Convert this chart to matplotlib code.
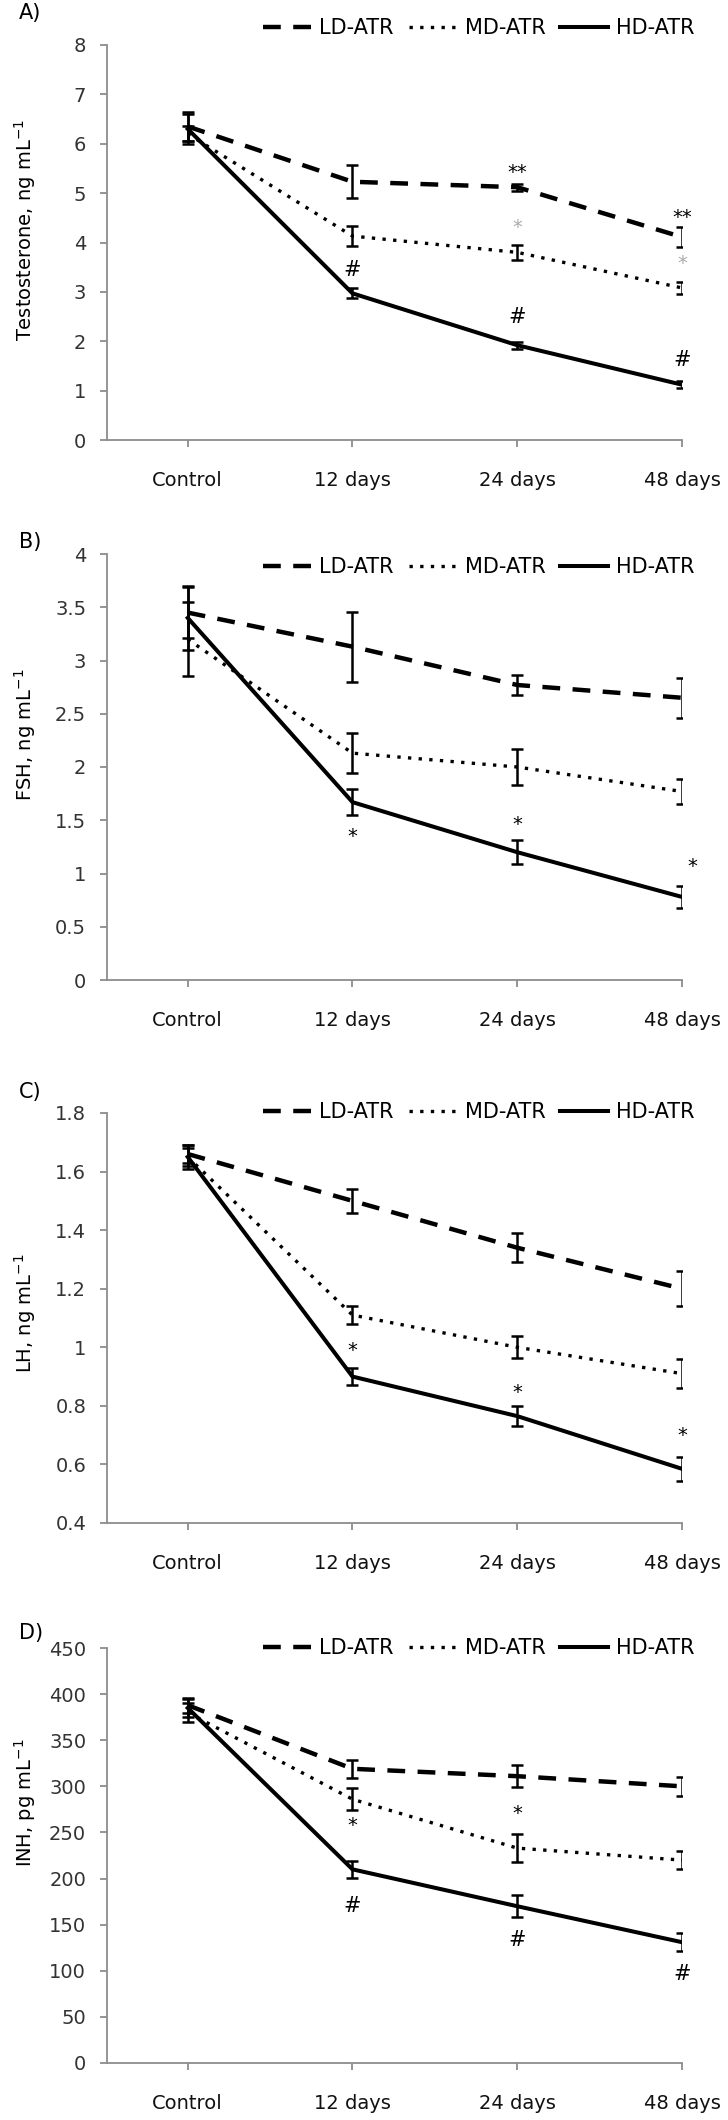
import numpy as np
import matplotlib
matplotlib.use("Agg")
import matplotlib.pyplot as plt
from matplotlib.ticker import FuncFormatter

plt.rcParams['font.family'] = ['DejaVu Sans']

cats = ["Control", "12 days", "24 days", "48 days"]
series = ["LD-ATR", "MD-ATR", "HD-ATR"]

# A) testosterone
t_ld = [6.35, 5.23, 5.12, 4.11]
t_ld_err = [0.3, 0.33, 0.07, 0.2]
t_md = [6.2, 4.13, 3.8, 3.08]
t_md_err = [0.15, 0.2, 0.15, 0.12]
t_hd = [6.3, 2.97, 1.92, 1.12]
t_hd_err = [0.3, 0.1, 0.07, 0.07]

# B) FSH
f_ld = [3.45, 3.13, 2.77, 2.65]
f_ld_err = [0.24, 0.33, 0.09, 0.19]
f_md = [3.2, 2.13, 2.0, 1.77]
f_md_err = [0.35, 0.19, 0.17, 0.12]
f_hd = [3.4, 1.67, 1.2, 0.78]
f_hd_err = [0.3, 0.125, 0.11, 0.1]

# C) LH
l_ld = [1.66, 1.5, 1.34, 1.2]
l_ld_err = [0.03, 0.04, 0.05, 0.06]
l_md = [1.65, 1.11, 1.0, 0.91]
l_md_err = [0.03, 0.03, 0.037, 0.05]
l_hd = [1.65, 0.9, 0.765, 0.585]
l_hd_err = [0.04, 0.03, 0.033, 0.04]

# D) INH
i_ld = [388, 319, 311, 300]
i_ld_err = [8, 10, 12, 10]
i_md = [380, 286, 233, 220]
i_md_err = [10, 12, 15, 10]
i_hd = [385, 210, 170, 131]
i_hd_err = [10, 9, 12, 10]

# significance marks: (category index, y, text, colour)
t_marks = [(2, 5.42, "**", "k"), (2, 4.3, "*", "#aaaaaa"), (1, 3.44, "#", "k"),
           (2, 2.5, "#", "k"), (3, 4.5, "**", "k"), (3, 3.58, "*", "#aaaaaa"),
           (3, 1.63, "#", "k")]
f_marks = [(1, 1.35, "*", "k"), (2, 1.46, "*", "k"), (3.06, 1.07, "*", "k")]
l_marks = [(1, 0.99, "*", "k"), (2, 0.845, "*", "k"), (3, 0.7, "*", "k")]
i_marks = [(1, 258, "*", "k"), (2, 270, "*", "k"), (1, 170, "#", "k"),
           (2, 133, "#", "k"), (3, 97, "#", "k")]

panels = [
    dict(letter="A)", ylabel="Testosterone, ng mL$^{-1}$", ylim=(0, 8), step=1,
         data=[(t_ld, t_ld_err), (t_md, t_md_err), (t_hd, t_hd_err)], marks=t_marks,
         top=45, bottom=440, leg_y=28, let_y=13, lab_y=230),
    dict(letter="B)", ylabel="FSH, ng mL$^{-1}$", ylim=(0, 4), step=0.5,
         data=[(f_ld, f_ld_err), (f_md, f_md_err), (f_hd, f_hd_err)], marks=f_marks,
         top=554, bottom=980, leg_y=567, let_y=542, lab_y=735),
    dict(letter="C)", ylabel="LH, ng mL$^{-1}$", ylim=(0.4, 1.8), step=0.2,
         data=[(l_ld, l_ld_err), (l_md, l_md_err), (l_hd, l_hd_err)], marks=l_marks,
         top=1113, bottom=1523, leg_y=1112, let_y=1092, lab_y=1313),
    dict(letter="D)", ylabel="INH, pg mL$^{-1}$", ylim=(0, 450), step=50,
         data=[(i_ld, i_ld_err), (i_md, i_md_err), (i_hd, i_hd_err)], marks=i_marks,
         top=1648, bottom=2063, leg_y=1648, let_y=1633, lab_y=1803),
]

W, H = 728, 2120
fig = plt.figure(figsize=(W / 100, H / 100), dpi=100)

styles = [dict(ls=(0, (4.0, 2.8)), lw=3.2),
          dict(ls=(0, (1.0, 2.2)), lw=2.4),
          dict(ls="-", lw=2.9)]
x = np.arange(len(cats))
gray = "#8c8c8c"

for p in panels:
    ax = fig.add_axes([107 / W, 1 - p["bottom"] / H, (682 - 107) / W,
                       (p["bottom"] - p["top"]) / H])
    for (vals, err), st, name in zip(p["data"], styles, series):
        ax.errorbar(x, vals, yerr=err, fmt="none", ecolor="k", elinewidth=1.8,
                    capsize=4.5, capthick=1.8, zorder=3)
        ax.plot(x, vals, color="k", linestyle=st["ls"], linewidth=st["lw"],
                label=name, zorder=4, dash_capstyle="butt")
    for xi, yi, txt, col in p["marks"]:
        fs = 15 if txt == "#" else 14
        ax.text(xi, yi, txt, ha="center", va="center", fontsize=fs, color=col)

    ax.set_xlim(-0.49, 3)
    ax.set_ylim(*p["ylim"])
    ax.set_yticks(np.arange(p["ylim"][0], p["ylim"][1] + p["step"] / 2, p["step"]))
    ax.yaxis.set_major_formatter(FuncFormatter(lambda v, pos: "%g" % round(v, 2)))
    ax.set_xticks(x)
    ax.set_xticklabels(cats)
    for s in ["top", "right"]:
        ax.spines[s].set_visible(False)
    for s in ["left", "bottom"]:
        ax.spines[s].set_color(gray)
        ax.spines[s].set_linewidth(1.3)
    ax.tick_params(axis="y", colors=gray, labelcolor="#333333", labelsize=14,
                   length=5, width=1.3, pad=10)
    ax.tick_params(axis="x", colors=gray, labelcolor="#111111", labelsize=14,
                   length=5, width=1.3, pad=17)

    ax.legend(loc="center", bbox_to_anchor=(479 / W, 1 - p["leg_y"] / H),
              bbox_transform=fig.transFigure, ncol=3, frameon=False, fontsize=15,
              handlelength=2.3, handletextpad=0.4, columnspacing=0.7, borderpad=0)
    fig.text(19 / W, 1 - p["let_y"] / H, p["letter"], fontsize=15,
             ha="left", va="center")
    fig.text(25 / W, 1 - p["lab_y"] / H, p["ylabel"], fontsize=14,
             rotation=90, ha="center", va="center")

fig.savefig("out.png", dpi=100, facecolor="white")
